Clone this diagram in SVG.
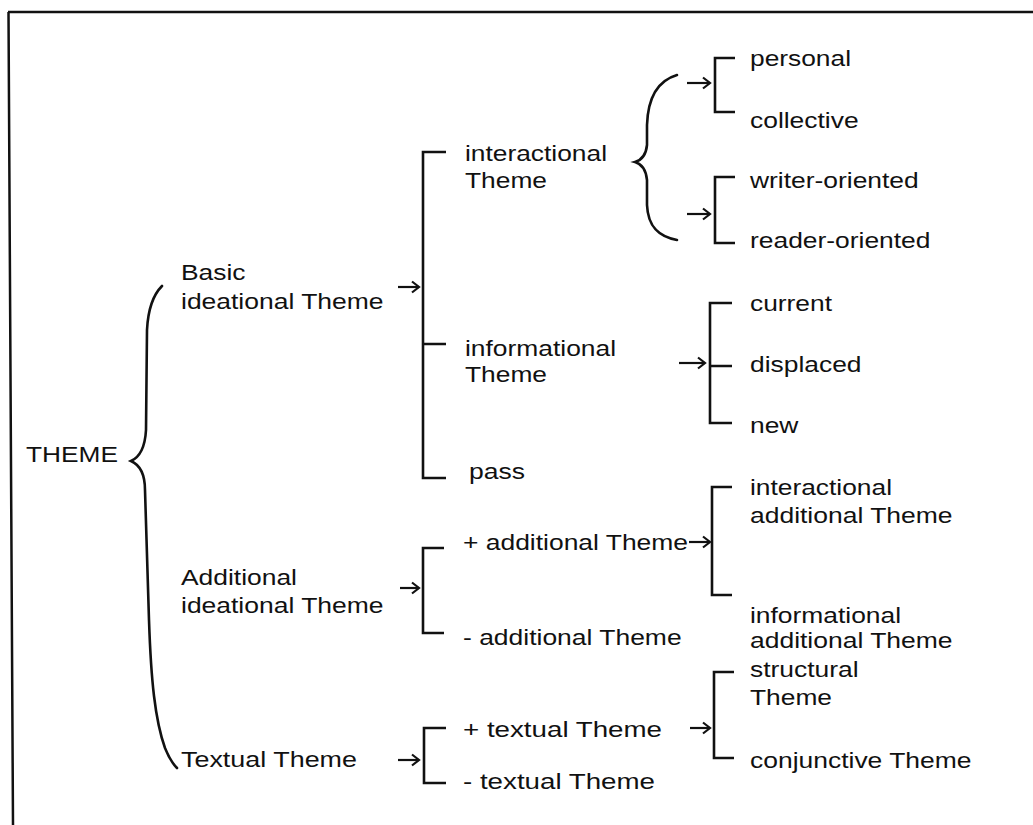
<svg xmlns="http://www.w3.org/2000/svg" width="1033" height="825" viewBox="0 0 1033 825">
  <defs>
    <style>
      text { font-family: "Liberation Sans", Arial, Helvetica, sans-serif; font-size: 22px; fill: #111; }
      .frame { fill: none; stroke: #111; stroke-width: 2.5; }
      .br { fill: none; stroke: #111; stroke-width: 2.6; stroke-linecap: butt; stroke-linejoin: miter; }
      .brace { fill: none; stroke: #111; stroke-width: 2.6; stroke-linecap: round; }
      .ar { fill: none; stroke: #111; stroke-width: 2.2; marker-end: url(#head); }
    </style>
    <marker id="head" markerUnits="userSpaceOnUse" markerWidth="12" markerHeight="14" refX="9" refY="7" orient="auto">
      <path d="M2,1.5 L9,7 L2,12.5" fill="none" stroke="#111" stroke-width="2.2"/>
    </marker>
  </defs>

  <rect width="1033" height="825" fill="#fff"/>
  <path class="frame" d="M8,12 H1033 M8.5,12 L13,825"/>

  <!-- braces, brackets and arrows -->
  <g id="connectors">
    <path class="brace" d="M162,286 C152,296 148,310 147,330 L146,430 C145,448 140,457 131,461 C140,465 145,474 145,490 L149,620 C151,680 155,720 165,748 C169,758 173,764 177,768"/>
    <path class="brace" d="M677,75 C660,80 648,95 647,125 L647,145 C646,155 642,160 635,162 C642,164 646,170 647,180 L647,205 C648,228 660,237 677,240"/>

    <path class="br" d="M446,152 H423 V478 H446 M423,344 H446"/>
    <path class="br" d="M735,58 H715 V112 H735"/>
    <path class="br" d="M735,177 H715 V243 H735"/>
    <path class="br" d="M732,303 H710 V423 H732 M710,366 H732"/>
    <path class="br" d="M444,548 H423 V633 H444"/>
    <path class="br" d="M732,487 H712 V595 H732"/>
    <path class="br" d="M446,728 H424 V783 H446"/>
    <path class="br" d="M734,672 H714 V758 H734"/>

    <line class="ar" x1="398" y1="287" x2="419" y2="287"/>
    <line class="ar" x1="400" y1="588" x2="419" y2="588"/>
    <line class="ar" x1="398" y1="760" x2="419" y2="760"/>
    <line class="ar" x1="687" y1="83" x2="710" y2="83"/>
    <line class="ar" x1="687" y1="214" x2="710" y2="214"/>
    <line class="ar" x1="679" y1="363" x2="705" y2="363"/>
    <line class="ar" x1="689" y1="542" x2="710" y2="542"/>
    <line class="ar" x1="690" y1="728" x2="710" y2="728"/>
  </g>

  <g id="theme"><text x="26" y="462" textLength="92" lengthAdjust="spacingAndGlyphs">THEME</text></g>

  <g id="basic-ideational">
    <text x="181" y="280" textLength="64.5" lengthAdjust="spacingAndGlyphs">Basic</text>
    <text x="181" y="309" textLength="202.5" lengthAdjust="spacingAndGlyphs">ideational Theme</text>
  </g>
  <g id="additional-ideational">
    <text x="181" y="585" textLength="116" lengthAdjust="spacingAndGlyphs">Additional</text>
    <text x="181" y="613" textLength="202.5" lengthAdjust="spacingAndGlyphs">ideational Theme</text>
  </g>
  <g id="textual"><text x="181" y="767" textLength="176" lengthAdjust="spacingAndGlyphs">Textual Theme</text></g>

  <g id="interactional">
    <text x="465" y="161" textLength="142" lengthAdjust="spacingAndGlyphs">interactional</text>
    <text x="465" y="188" textLength="82" lengthAdjust="spacingAndGlyphs">Theme</text>
  </g>
  <g id="informational">
    <text x="465" y="356" textLength="151" lengthAdjust="spacingAndGlyphs">informational</text>
    <text x="465" y="382" textLength="82" lengthAdjust="spacingAndGlyphs">Theme</text>
  </g>
  <g id="pass"><text x="469" y="479" textLength="56" lengthAdjust="spacingAndGlyphs">pass</text></g>

  <g id="personal"><text x="750" y="66" textLength="101" lengthAdjust="spacingAndGlyphs">personal</text></g>
  <g id="collective"><text x="750" y="128" textLength="108.6" lengthAdjust="spacingAndGlyphs">collective</text></g>
  <g id="writer-oriented"><text x="750" y="188" textLength="168.7" lengthAdjust="spacingAndGlyphs">writer-oriented</text></g>
  <g id="reader-oriented"><text x="750" y="248" textLength="180.5" lengthAdjust="spacingAndGlyphs">reader-oriented</text></g>

  <g id="current"><text x="750" y="311" textLength="82" lengthAdjust="spacingAndGlyphs">current</text></g>
  <g id="displaced"><text x="750" y="372" textLength="111.5" lengthAdjust="spacingAndGlyphs">displaced</text></g>
  <g id="new"><text x="750" y="433" textLength="48.4" lengthAdjust="spacingAndGlyphs">new</text></g>

  <g id="plus-additional"><text x="463" y="550" textLength="225" lengthAdjust="spacingAndGlyphs">+ additional Theme</text></g>
  <g id="minus-additional"><text x="463" y="645" textLength="218.6" lengthAdjust="spacingAndGlyphs">- additional Theme</text></g>
  <g id="interactional-additional">
    <text x="750" y="495" textLength="142" lengthAdjust="spacingAndGlyphs">interactional</text>
    <text x="750" y="523" textLength="202.5" lengthAdjust="spacingAndGlyphs">additional Theme</text>
  </g>
  <g id="informational-additional">
    <text x="750" y="623" textLength="151" lengthAdjust="spacingAndGlyphs">informational</text>
    <text x="750" y="648" textLength="202.5" lengthAdjust="spacingAndGlyphs">additional Theme</text>
  </g>

  <g id="plus-textual"><text x="463" y="737" textLength="199" lengthAdjust="spacingAndGlyphs">+ textual Theme</text></g>
  <g id="minus-textual"><text x="463" y="789" textLength="192" lengthAdjust="spacingAndGlyphs">- textual Theme</text></g>
  <g id="structural">
    <text x="750" y="677" textLength="108.6" lengthAdjust="spacingAndGlyphs">structural</text>
    <text x="750" y="705" textLength="82" lengthAdjust="spacingAndGlyphs">Theme</text>
  </g>
  <g id="conjunctive"><text x="750" y="768" textLength="221.5" lengthAdjust="spacingAndGlyphs">conjunctive Theme</text></g>
</svg>
